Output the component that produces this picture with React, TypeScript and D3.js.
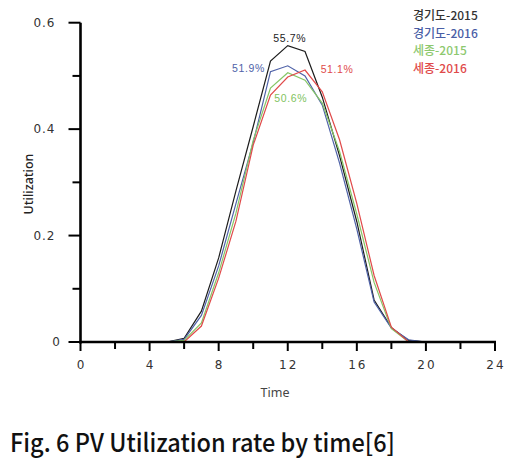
import React from "react";
import * as d3 from "d3";

const hours = d3.range(0, 24);
const seriesNames = ["경기도-2015", "경기도-2016", "세종-2015", "세종-2016"];
const seriesColors = ["#1c1c1c", "#4f62a8", "#86c666", "#e04a4a"];
const gyeonggi2015 = [0, 0, 0, 0, 0, 0, 0.007, 0.058, 0.158, 0.284, 0.405, 0.528, 0.557, 0.546, 0.46, 0.35, 0.226, 0.079, 0.027, 0.003, 0, 0, 0, 0];
const gyeonggi2016 = [0, 0, 0, 0, 0, 0, 0.005, 0.05, 0.143, 0.26, 0.375, 0.508, 0.519, 0.5, 0.445, 0.336, 0.212, 0.075, 0.026, 0.004, 0, 0, 0, 0];
const sejong2015 = [0, 0, 0, 0, 0, 0, 0.003, 0.036, 0.13, 0.242, 0.379, 0.477, 0.506, 0.492, 0.449, 0.358, 0.24, 0.112, 0.025, 0, 0, 0, 0, 0];
const sejong2016 = [0, 0, 0, 0, 0, 0, 0, 0.03, 0.12, 0.227, 0.37, 0.464, 0.498, 0.511, 0.47, 0.38, 0.26, 0.125, 0.028, 0, 0, 0, 0, 0];
const allSeries = [gyeonggi2015, gyeonggi2016, sejong2015, sejong2016];
const peakLabels = ["55.7%", "51.9%", "50.6%", "51.1%"];
const xTickLabels = ["0", "4", "8", "12", "16", "20", "24"];
const yTickLabels = ["0", "0.2", "0.4", "0.6"];

export default function App() {
  const x = d3.scaleLinear().domain([0, 24]).range([80.5, 495]);
  const y = d3.scaleLinear().domain([0, 0.6]).range([342, 22.7]);
  const line = d3
    .line<number>()
    .x((_, i) => x(hours[i]))
    .y((d) => y(d));

  const annPos = [
    { h: 12, v: 0.557, dx: 2, dy: -4, color: seriesColors[0] },
    { h: 11, v: 0.508, dx: -22, dy: 0, color: seriesColors[1] },
    { h: 12, v: 0.506, dx: 3, dy: 29, color: "#7fc35e" },
    { h: 13, v: 0.511, dx: 32, dy: 3, color: seriesColors[3] },
  ];

  const legendColors = ["#333333", "#4a5ea6", "#8dc86e", "#df4a4a"];

  return (
    <svg
      width={528}
      height={461}
      style={{ position: "absolute", left: 0, top: 0, background: "#fff" }}
    >
      {allSeries.map((s, i) => (
        <path
          key={"s" + i}
          d={line(s) || ""}
          fill="none"
          stroke={seriesColors[i]}
          strokeWidth={1.2}
        />
      ))}

      <line x1={x(0)} x2={x(0)} y1={y(0.6)} y2={y(0) + 1.5} stroke="#000" strokeWidth={2.6} />
      <line x1={x(0) - 1.3} x2={x(24) + 1} y1={y(0)} y2={y(0)} stroke="#000" strokeWidth={2.6} />
      {d3.range(0, 7).map((k) => {
        const t = k / 10;
        const major = k % 2 === 0;
        return (
          <line
            key={"yt" + k}
            x1={x(0) - (major ? 12 : 8)}
            x2={x(0)}
            y1={y(t)}
            y2={y(t)}
            stroke="#000"
            strokeWidth={2}
          />
        );
      })}
      {d3.range(0, 25, 2).map((t) => (
        <line
          key={"xt" + t}
          x1={x(t)}
          x2={x(t)}
          y1={y(0)}
          y2={y(0) + (t % 4 === 0 ? 9 : 7)}
          stroke="#000"
          strokeWidth={2}
        />
      ))}

      {yTickLabels.map((t) => (
        <text
          key={"yl" + t}
          x={t === "0" ? 61 : 55.5}
          y={y(+t)}
          dy="0.35em"
          textAnchor="end"
          fontFamily="DejaVu Sans"
          fontSize={12}
          letterSpacing={1}
          fill="#333"
        >
          {t}
        </text>
      ))}
      {xTickLabels.map((t) => (
        <text
          key={"xl" + t}
          x={x(+t) + 1}
          y={369}
          textAnchor="middle"
          fontFamily="DejaVu Sans"
          fontSize={12}
          letterSpacing={2}
          fill="#333"
        >
          {t}
        </text>
      ))}

      <text
        x={275}
        y={397}
        textAnchor="middle"
        fontFamily="Noto Sans"
        fontSize={12.5}
        fill="#444"
      >
        Time
      </text>
      <text
        transform="translate(33,184) rotate(-90)"
        textAnchor="middle"
        fontFamily="Noto Sans"
        fontSize={12.5}
        fontWeight={500}
        fill="#222"
      >
        Utilization
      </text>

      {annPos.map((a, i) => (
        <text
          key={"a" + i}
          x={x(a.h) + a.dx}
          y={y(a.v) + a.dy}
          textAnchor="middle"
          fontFamily="Liberation Sans"
          fontSize={10.5}
          letterSpacing={0.6}
          fill={a.color}
        >
          {peakLabels[i]}
        </text>
      ))}

      {seriesNames.map((n, i) => (
        <text
          key={n}
          x={413}
          y={20 + i * 17.5}
          fontFamily="Noto Sans CJK KR"
          fontSize={12}
          fontWeight={500}
          fill={legendColors[i]}
        >
          {n}
        </text>
      ))}

      <text
        x={10}
        y={452}
        fontFamily="Noto Sans CJK KR"
        fontSize={25}
        fontWeight={500}
        textLength={385}
        lengthAdjust="spacingAndGlyphs"
        fill="#111"
      >
        Fig. 6 PV Utilization rate by time[6]
      </text>
    </svg>
  );
}
